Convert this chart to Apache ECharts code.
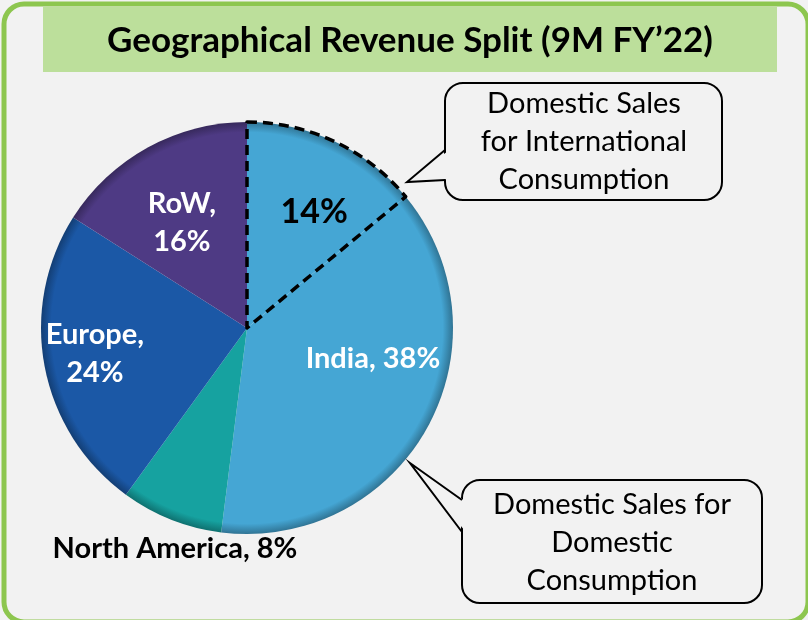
<!DOCTYPE html>
<html>
<head>
<meta charset="utf-8">
<script src="https://cdn.jsdelivr.net/npm/echarts@6/dist/echarts.min.js"></script>
<style>
  html, body { margin: 0; padding: 0; background: #f2f2f2; }
  #main { width: 808px; height: 620px; }
</style>
</head>
<body>
<div id="main"></div>
<script>
// 数据
var segNames  = ['14%', 'India', 'North America', 'Europe', 'RoW'];
var segValues = [14, 38, 8, 24, 16];
var segColors = ['#45a6d4', '#45a6d4', '#16a2a0', '#1b58a6', '#4e3a84'];
var segLabels = ['14%', 'India, 38%', 'North America, 8%', 'Europe,\n24%', 'RoW,\n16%'];

var FONT = 'Lato, "Open Sans", sans-serif';
var BG = '#f2f2f2';
var cx = 247, cy = 328, R = 206;

// 标签偏移 (inside 位置基础上)
var labelCfg = [
  { offset: [22, -20], color: '#000', fontSize: 34 },
  { offset: [33, -20], color: '#fff', fontSize: 29 },
  { offset: [-33, 122], color: '#000', fontSize: 29 },
  { offset: [-48, 6], color: '#fff', fontSize: 29 },
  { offset: [-14, -12], color: '#fff', fontSize: 29 }
];

// 颜色变暗
function darker(hex, k) {
  var n = parseInt(hex.slice(1), 16);
  var r = Math.round(((n >> 16) & 255) * k);
  var g = Math.round(((n >> 8) & 255) * k);
  var b = Math.round((n & 255) * k);
  return 'rgb(' + r + ',' + g + ',' + b + ')';
}

function shade(c) {
  return {
    type: 'radial', x: cx, y: cy, r: R, global: true,
    colorStops: [
      { offset: 0, color: c },
      { offset: 0.95, color: c },
      { offset: 1, color: darker(c, 0.7) }
    ]
  };
}

var pieData = segValues.map(function (v, i) {
  return {
    name: segNames[i],
    value: v,
    itemStyle: { color: shade(segColors[i]) },
    label: {
      formatter: segLabels[i],
      offset: labelCfg[i].offset,
      color: labelCfg[i].color,
      fontSize: labelCfg[i].fontSize
    }
  };
});

// 虚线框: 只给 14% 这一块描边
var outlineData = segValues.map(function (v, i) {
  return {
    name: segNames[i],
    value: v,
    itemStyle: i === 0
      ? { color: 'transparent', borderColor: '#000', borderWidth: 3.5, borderType: [10, 6] }
      : { color: 'transparent', borderWidth: 0 }
  };
});

// 气泡标注框: 圆角矩形 + 指针
function callout(x, y, w, h, p1, tip, p2) {
  return [
    { type: 'rect', z: 2, shape: { x: x, y: y, width: w, height: h, r: 18 },
      style: { fill: BG, stroke: '#000', lineWidth: 2 } },
    { type: 'polygon', z: 3, shape: { points: [[p1[0] + 3, p1[1] + 1], tip, [p2[0] + 3, p2[1] - 1]] },
      style: { fill: BG } },
    { type: 'polyline', z: 4, shape: { points: [p1, tip, p2] },
      style: { fill: null, stroke: '#000', lineWidth: 2 } }
  ];
}

var graphics = [
  // 外框
  { type: 'rect', shape: { x: 4, y: 4, width: 804, height: 618, r: 20 },
    style: { fill: 'none', stroke: '#8dc64f', lineWidth: 5 }, z: 1 },
  // 标题
  { type: 'rect', shape: { x: 43, y: 7, width: 734, height: 65 },
    style: { fill: '#bcdf9b' }, z: 1 },
  { type: 'text', x: 410, y: 41, z: 2,
    style: { text: 'Geographical Revenue Split (9M FY\u201922)', font: 'bold 35px ' + FONT,
      fill: '#000', align: 'center', verticalAlign: 'middle' } },
  { type: 'text', x: 584, y: 142, z: 5,
    style: { text: 'Domestic Sales\nfor International\nConsumption', font: '29px ' + FONT,
      lineHeight: 38, fill: '#000', align: 'center', verticalAlign: 'middle' } },
  { type: 'text', x: 612, y: 543, z: 5,
    style: { text: 'Domestic Sales for\nDomestic\nConsumption', font: '29px ' + FONT,
      lineHeight: 38, fill: '#000', align: 'center', verticalAlign: 'middle' } }
];
graphics = graphics
  .concat(callout(445, 83, 277, 117, [445, 150], [407, 182], [445, 180]))
  .concat(callout(462, 480, 300, 123, [462, 500], [410, 463], [462, 532]));

var chart = echarts.init(document.getElementById('main'));
chart.setOption({
  backgroundColor: BG,
  animation: false,
  graphic: graphics,
  series: [
    {
      type: 'pie',
      center: [cx, cy],
      radius: [0, R],
      startAngle: 90,
      clockwise: true,
      avoidLabelOverlap: false,
      silent: true,
      label: {
        show: true,
        position: 'inside',
        fontFamily: FONT,
        fontWeight: 'bold',
        lineHeight: 38,
        align: 'center'
      },
      labelLine: { show: false },
      itemStyle: { borderWidth: 0 },
      data: pieData,
      z: 3
    },
    {
      type: 'pie',
      center: [cx, cy],
      radius: [0, R],
      startAngle: 90,
      clockwise: true,
      silent: true,
      label: { show: false },
      labelLine: { show: false },
      data: outlineData,
      z: 4
    }
  ]
});
</script>
</body>
</html>
